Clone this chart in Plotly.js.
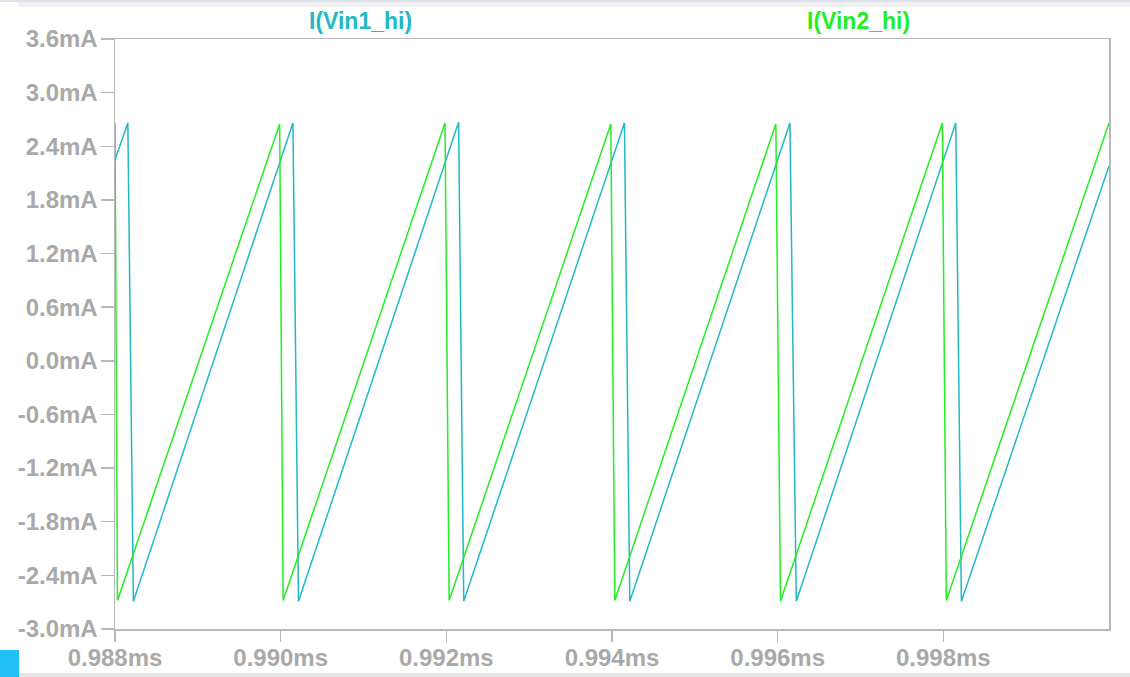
<!DOCTYPE html>
<html>
<head>
<meta charset="utf-8">
<script src="https://cdn.plot.ly/plotly-3.0.1.min.js"></script>
<style>
html,body{margin:0;padding:0;background:#fff;}
#chart{width:1130px;height:677px;}
</style>
</head>
<body>
<div id="chart"></div>
<script>
// I(Vin2_hi) — green trace (time in ms, current in mA)
const vin2Time = [0.988, 0.98803, 0.989988, 0.99003, 0.991984, 0.992034, 0.993986, 0.994034, 0.995978, 0.996034, 0.997988, 0.998036, 1.0];
const vin2Curr = [2.66, -2.68, 2.65, -2.68, 2.66, -2.68, 2.65, -2.68, 2.65, -2.69, 2.66, -2.68, 2.66];

// I(Vin1_hi) — cyan trace
const vin1Time = [0.988, 0.988155, 0.988222, 0.990148, 0.990215, 0.992148, 0.992210, 0.994150, 0.994215, 0.996148, 0.996225, 0.998150, 0.998218, 1.0];
const vin1Curr = [2.25, 2.66, -2.69, 2.66, -2.69, 2.67, -2.69, 2.66, -2.69, 2.66, -2.69, 2.66, -2.69, 2.18];

const traceNames = ["I(Vin1_hi)", "I(Vin2_hi)"];
const traceColors = ["#22b8c4", "#22ee22"];

const xTickVals = [0.988, 0.990, 0.992, 0.994, 0.996, 0.998];
const xTickText = ["0.988ms", "0.990ms", "0.992ms", "0.994ms", "0.996ms", "0.998ms"];
const yTickVals = [3.6, 3.0, 2.4, 1.8, 1.2, 0.6, 0.0, -0.6, -1.2, -1.8, -2.4, -3.0];
const yTickText = ["3.6mA", "3.0mA", "2.4mA", "1.8mA", "1.2mA", "0.6mA", "0.0mA", "-0.6mA", "-1.2mA", "-1.8mA", "-2.4mA", "-3.0mA"];

const tickFont = {family: "Liberation Sans, Arial, sans-serif", size: 24, color: "#a9a9a9", weight: "bold"};

const traces = [
  {x: vin1Time, y: vin1Curr, mode: "lines", name: traceNames[0], line: {color: traceColors[0], width: 1.5}, hoverinfo: "skip"},
  {x: vin2Time, y: vin2Curr, mode: "lines", name: traceNames[1], line: {color: traceColors[1], width: 1.5}, hoverinfo: "skip"}
];

const layout = {
  width: 1130, height: 677,
  margin: {l: 115, r: 21, t: 39, b: 48, pad: 0},
  paper_bgcolor: "#ffffff", plot_bgcolor: "#ffffff",
  showlegend: false,
  xaxis: {
    range: [0.988, 1.0], tickvals: xTickVals, ticktext: xTickText,
    showgrid: false, zeroline: false, showline: true, mirror: true,
    linecolor: "#b8b8b8", linewidth: 1.5,
    ticks: "outside", ticklen: 11, tickwidth: 1.5, tickcolor: "#b8b8b8",
    ticklabelstandoff: -4,
    tickfont: tickFont, fixedrange: true
  },
  yaxis: {
    range: [-3.0, 3.6], tickvals: yTickVals, ticktext: yTickText,
    showgrid: false, zeroline: false, showline: true, mirror: true,
    linecolor: "#b8b8b8", linewidth: 1.5,
    ticks: "outside", ticklen: 13, tickwidth: 1.5, tickcolor: "#b8b8b8",
    ticklabelstandoff: -2,
    tickfont: tickFont, fixedrange: true
  },
  annotations: [
    {text: traceNames[0], xref: "paper", yref: "paper", x: (360 - 115) / 994, xanchor: "center", y: 1, yanchor: "middle", yshift: 18, showarrow: false,
     font: {family: "Liberation Sans, Arial, sans-serif", size: 23, color: traceColors[0], weight: "bold"}},
    {text: traceNames[1], xref: "paper", yref: "paper", x: (858 - 115) / 994, xanchor: "center", y: 1, yanchor: "middle", yshift: 18, showarrow: false,
     font: {family: "Liberation Sans, Arial, sans-serif", size: 23, color: traceColors[1], weight: "bold"}}
  ],
  shapes: [
    {type: "rect", xref: "paper", yref: "paper", x0: -115/994, x1: 1015/994, y0: 1 + 37/590, y1: 1 + 40/590, fillcolor: "#dbe4ee", line: {width: 0}, layer: "below"},
    {type: "rect", xref: "paper", yref: "paper", x0: -96/994, x1: 1015/994, y0: 1 + 32/590, y1: 1 + 37/590, fillcolor: "#f0f0f0", line: {width: 0}, layer: "below"},
    {type: "rect", xref: "paper", yref: "paper", x0: -96/994, x1: 1015/994, y0: -48/590, y1: -44/590, fillcolor: "#e6e6e6", line: {width: 0}, layer: "below"},
    {type: "rect", xref: "paper", yref: "paper", x0: -115/994, x1: -96/994, y0: -48/590, y1: -21/590, fillcolor: "#1ec0f5", line: {width: 0}, layer: "below"}
  ]
};

Plotly.newPlot("chart", traces, layout, {displayModeBar: false, staticPlot: true});
</script>
</body>
</html>
